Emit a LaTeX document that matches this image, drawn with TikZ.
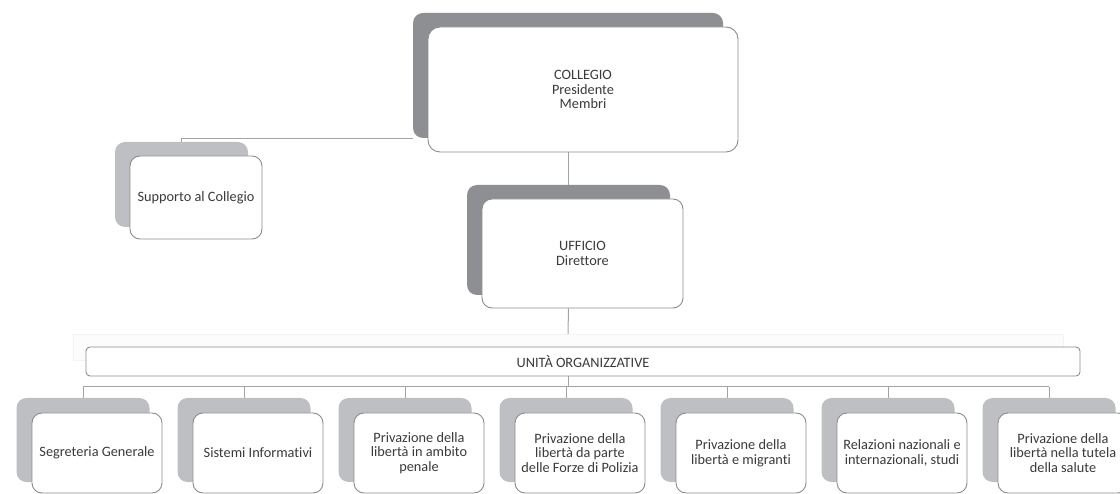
\documentclass[tikz,border=0pt]{standalone}
\usepackage{fontspec}
\setmainfont{Carlito}[Ligatures=NoCommon]
\usetikzlibrary{backgrounds}
\definecolor{darkshade}{HTML}{8E8F93}
\definecolor{lightshade}{HTML}{BEBFC3}
\definecolor{boxline}{HTML}{8C8C8C}
\definecolor{connline}{HTML}{A3A3A3}
\definecolor{txt}{HTML}{3A3A3A}
\definecolor{faintfill}{HTML}{FCFCFC}
\definecolor{faintline}{HTML}{F3F3F3}
\begin{document}
\begin{tikzpicture}[x=1pt,y=-1pt,
  frontbox/.style={draw=boxline, line width=0.9pt, fill=white, rounded corners=10pt,
    align=center, text=txt, font=\fontsize{14.3}{14.6}\selectfont, inner sep=1pt},
  darkback/.style={fill=darkshade, rounded corners=10pt, inner sep=0pt},
  lightback/.style={fill=lightshade, rounded corners=10pt, inner sep=0pt},
  conn/.style={draw=connline, line width=1pt}]
\useasboundingbox (0,0) rectangle (1120,494);
\clip (0,0) rectangle (1120,494);

% COLLEGIO
\node[darkback, minimum width=310pt, minimum height=125pt] (cS) at (568,75.5) {};
\node[frontbox, rounded corners=12pt, minimum width=310pt, minimum height=125pt] (c) at (583,89.5)
  {COLLEGIO\\Presidente\\Membri};

% Supporto
\node[lightback, minimum width=133pt, minimum height=85pt] (sS) at (181.5,184.5) {};
\node[frontbox, minimum width=132pt, minimum height=83pt] (s) at (196,197.5) {Supporto al Collegio};

% UFFICIO
\node[darkback, minimum width=203pt, minimum height=110pt] (uS) at (568.5,240) {};
\node[frontbox, minimum width=201pt, minimum height=109pt] (u) at (582.5,253.5) {UFFICIO\\Direttore};

% Band
\node[draw=faintline, fill=faintfill, minimum width=990pt, minimum height=26pt, inner sep=0pt] (bandbg) at (568,347) {};
\node[frontbox, rounded corners=4pt, minimum width=994pt, minimum height=29pt] (band) at (583,361.5) {UNITÀ ORGANIZZATIVE};

% Bottom row
\foreach \i/\t in {1/{Segreteria Generale},
                   2/{Sistemi Informativi},
                   3/{Privazione della\\libertà in ambito\\penale},
                   4/{Privazione della\\libertà da parte\\delle Forze di Polizia},
                   5/{Privazione della\\libertà e migranti},
                   6/{Relazioni nazionali e\\internazionali, studi},
                   7/{Privazione della\\libertà nella tutela\\della salute}}{
  \pgfmathsetmacro\cx{97+161*(\i-1)}
  \node[lightback, minimum width=133pt, minimum height=84pt] (s\i) at (\cx-14,440) {};
  \node[frontbox, minimum width=130pt, minimum height=80pt] (b\i) at (\cx,453) {\t};
}

\coordinate (bus) at (568,387);

\begin{scope}[on background layer]
  \draw[conn] (sS.north) |- (cS.south west);
  \draw[conn] (uS.north |- c.south) -- (uS.north);
  \draw[conn] (uS.north |- u.south) -- (bandbg.north);
  \draw[conn] (bus |- band.south) -- (bus);
  \draw[conn] (bus -| s1.north) -- (bus -| s7.north);
  \foreach \i in {1,...,7}{
    \draw[conn] (bus -| s\i.north) -- (s\i.north);
  }
\end{scope}
\end{tikzpicture}
\end{document}
